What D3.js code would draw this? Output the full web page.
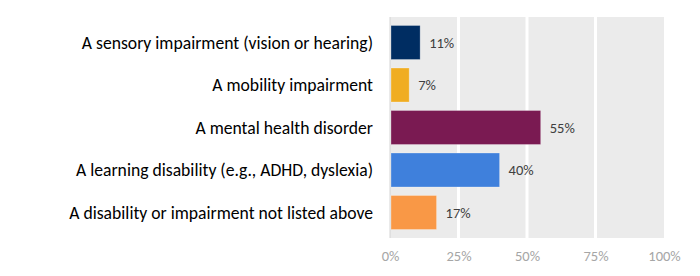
<!DOCTYPE html>
<html>
<head>
<meta charset="utf-8">
<script src="https://cdn.jsdelivr.net/npm/d3@7"></script>
<style>
  body { margin: 0; background: #fff; }
  svg text { font-family: Carlito, Lato, "Open Sans", sans-serif; }
</style>
</head>
<body>
<script>
const categories = [
  "A sensory impairment (vision or hearing)",
  "A mobility impairment",
  "A mental health disorder",
  "A learning disability (e.g., ADHD, dyslexia)",
  "A disability or impairment not listed above"
];
const values = [11, 7, 55, 40, 17];
const colors = ["#002d62", "#f0ad22", "#7a1a52", "#3f80dc", "#f99846"];
const ticks = [0, 25, 50, 75, 100];

const w = 700, h = 276;
const plotLeft = 390, plotRight = 664, plotTop = 17, plotBottom = 238;

const svg = d3.select("body").append("svg")
  .attr("width", w)
  .attr("height", h);

const xScale = d3.scaleLinear().domain([0, 100]).range([plotLeft, plotRight]);
const yScale = d3.scaleBand().domain(categories).range([plotTop, plotBottom]).padding(0.2);

// plot background
svg.append("rect")
  .attr("x", plotLeft).attr("y", plotTop)
  .attr("width", plotRight - plotLeft).attr("height", plotBottom - plotTop)
  .attr("fill", "#ebebeb");

// white gridlines
svg.selectAll(".grid")
  .data(ticks.slice(1, 4))
  .enter().append("line")
  .attr("x1", d => xScale(d)).attr("x2", d => xScale(d))
  .attr("y1", plotTop).attr("y2", plotBottom)
  .attr("stroke", "#fff").attr("stroke-width", 3);

// zero axis line
svg.append("line")
  .attr("x1", plotLeft).attr("x2", plotLeft)
  .attr("y1", plotTop).attr("y2", plotBottom)
  .attr("stroke", "#d4d4d4").attr("stroke-width", 1);

// bars
svg.selectAll(".bar")
  .data(values)
  .enter().append("rect")
  .attr("x", xScale(0) + 1)
  .attr("y", (d, i) => yScale(categories[i]))
  .attr("width", d => xScale(d) - xScale(0) - 1)
  .attr("height", yScale.bandwidth())
  .attr("fill", (d, i) => colors[i])
  .attr("stroke", "rgba(255,255,255,0.35)")
  .attr("stroke-width", 0.8);

// value labels
svg.selectAll(".val")
  .data(values)
  .enter().append("text")
  .attr("x", d => xScale(d) + 9)
  .attr("y", (d, i) => yScale(categories[i]) + yScale.bandwidth() / 2)
  .attr("dy", "0.35em")
  .attr("font-size", 14.5)
  .attr("fill", "#404040")
  .text(d => d + "%");

// category labels
const cats = svg.selectAll(".cat")
  .data(categories)
  .enter().append("text")
  .attr("x", 373)
  .attr("y", d => yScale(d) + yScale.bandwidth() / 2)
  .attr("dy", "0.35em")
  .attr("text-anchor", "end")
  .attr("font-size", 16)
  .attr("fill", "#000")
  .text(d => d);

// fit the longest label to the width seen in the picture
const longest = d3.max(cats.nodes(), n => n.getComputedTextLength());
cats.attr("font-size", 16 * 304 / longest);

// x axis tick labels
const xAxis = d3.axisBottom(xScale)
  .tickValues(ticks)
  .tickSize(0)
  .tickPadding(0)
  .tickFormat(d => d + "%");

const ax = svg.append("g")
  .attr("transform", "translate(0," + 251 + ")")
  .call(xAxis);
ax.select(".domain").remove();
ax.selectAll("text")
  .attr("font-size", 14.5)
  .attr("font-family", "Carlito, Lato, sans-serif")
  .attr("fill", "#a6a6a6");
</script>
</body>
</html>
